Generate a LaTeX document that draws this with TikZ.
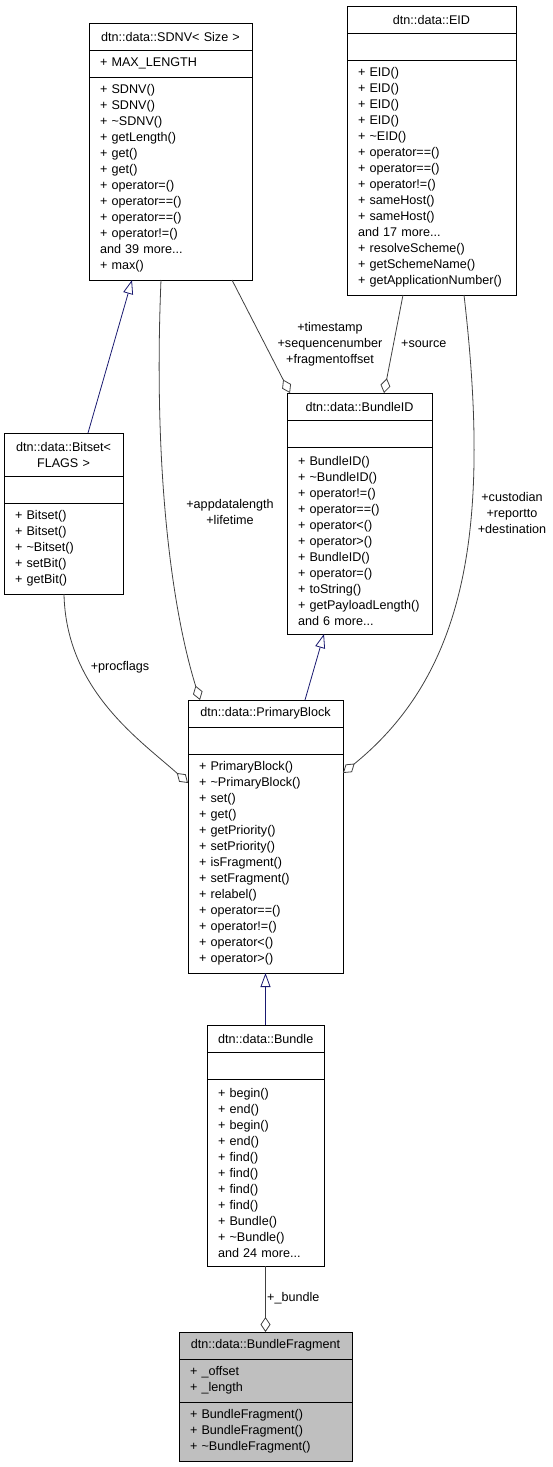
\documentclass[tikz,border=0pt]{standalone}
\usepackage{fontspec}
\usepackage{tikz}
\usetikzlibrary{arrows.meta}
\newfontfamily\dxfont{Liberation Sans}
\definecolor{edgegray}{HTML}{404040}
\definecolor{inhblue}{HTML}{191970}
\definecolor{fraggray}{HTML}{BFBFBF}

\begin{document}
\begin{tikzpicture}[x=1pt,y=-1pt,
umlbox/.style={draw=black, line width=1pt, fill=white, inner xsep=11pt,
inner ysep=0pt, outer sep=0pt, anchor=north,
font=\dxfont\fontsize{12.6}{16}\selectfont},
ctitle/.style={umlbox, align=center, text width=#1, minimum height=27},
cpart/.style={umlbox, align=left, text width=#1},
rows/.style={minimum height={16*#1+11}},
aggr/.style={draw=edgegray, line width=.8pt,
-{Diamond[open,length=15pt,width=10pt,line width=.8pt]}},
inherit/.style={draw=inhblue, line width=.8pt,
-{Triangle[open,length=14pt,width=10pt,line width=.8pt]}},
lbl/.style={font=\dxfont\fontsize{12.6}{16}\selectfont, inner sep=0pt, align=center}]
\useasboundingbox (0,0) rectangle (553,1467);
% SDNV
\node[ctitle=141] (sdnv) at (170.5,23) {dtn::data::SDNV< Size >};
\node[cpart=141, rows=1] (sdnva) at (sdnv.south) {+ MAX\_LENGTH};
\node[cpart=141, rows=12] (sdnvm) at (sdnva.south) {+ SDNV()\\+ SDNV()\\
+ \textasciitilde SDNV()\\+ getLength()\\+ get()\\+ get()\\+ operator=()\\
+ operator==()\\+ operator==()\\+ operator!=()\\and 39 more...\\+ max()};
% EID
\node[ctitle=147] (eid) at (431.5,6) {dtn::data::EID};
\node[cpart=147, rows=1] (eida) at (eid.south) {};
\node[cpart=147, rows=14] (eidm) at (eida.south) {+ EID()\\+ EID()\\+ EID()\\
+ EID()\\+ \textasciitilde EID()\\+ operator==()\\+ operator==()\\+ operator!=()\\
+ sameHost()\\+ sameHost()\\and 17 more...\\+ resolveScheme()\\
+ getSchemeName()\\+ getApplicationNumber()};
% BundleID
\node[ctitle=123] (bidt) at (359.5,393) {dtn::data::BundleID};
\node[cpart=123, rows=1] (bida) at (bidt.south) {};
\node[cpart=123, rows=11] (bidm) at (bida.south) {+ BundleID()\\
+ \textasciitilde BundleID()\\+ operator!=()\\+ operator==()\\+ operator<()\\
+ operator>()\\+ BundleID()\\+ operator=()\\+ toString()\\
+ getPayloadLength()\\and 6 more...};
% Bitset
\node[ctitle=97, rows=2] (bitt) at (63.5,433) {dtn::data::Bitset<\\FLAGS >};
\node[cpart=97, rows=1] (bita) at (bitt.south) {};
\node[cpart=97, rows=5] (bitm) at (bita.south) {+ Bitset()\\+ Bitset()\\
+ \textasciitilde Bitset()\\+ setBit()\\+ getBit()};
% PrimaryBlock
\node[ctitle=133] (pbt) at (265.5,700) {dtn::data::PrimaryBlock};
\node[cpart=133, rows=1] (pba) at (pbt.south) {};
\node[cpart=133, rows=13] (pbm) at (pba.south) {+ PrimaryBlock()\\
+ \textasciitilde PrimaryBlock()\\+ set()\\+ get()\\+ getPriority()\\
+ setPriority()\\+ isFragment()\\+ setFragment()\\+ relabel()\\
+ operator==()\\+ operator!=()\\+ operator<()\\+ operator>()};
% Bundle
\node[ctitle=95] (bt) at (265.5,1025) {dtn::data::Bundle};
\node[cpart=95, rows=1] (ba) at (bt.south) {};
\node[cpart=95, rows=11] (bm) at (ba.south) {+ begin()\\+ end()\\+ begin()\\
+ end()\\+ find()\\+ find()\\+ find()\\+ find()\\+ Bundle()\\
+ \textasciitilde Bundle()\\and 24 more...};
% BundleFragment
\node[ctitle=151, fill=fraggray] (bft) at (265.5,1332) {dtn::data::BundleFragment};
\node[cpart=151, rows=2, fill=fraggray] (bfa) at (bft.south) {+ \_offset\\+ \_length};
\node[cpart=151, rows=3, fill=fraggray] (bfm) at (bfa.south) {+ BundleFragment()\\
+ BundleFragment()\\+ \textasciitilde BundleFragment()};
% inheritance
\draw[inherit] ([xshift=84pt]bitt.north west) -- ([xshift=43pt]sdnvm.south west);
\draw[inherit] ([xshift=117pt]pbt.north west) -- ([xshift=37pt]bidm.south west);
\draw[inherit] (bt.north) -- (pbm.south);
% members
\draw[aggr] ([xshift=143pt]sdnvm.south west) -- ([xshift=3pt]bidt.north west);
\draw[aggr] ([xshift=56pt]eidm.south west) -- ([xshift=97pt]bidt.north west);
\draw[aggr] ([xshift=117pt]eidm.south west) .. controls (490,520) and (470,670)
.. ([yshift=-19pt]pbm.north east);
\draw[aggr] ([xshift=72pt]sdnvm.south west) .. controls (153,470) and (172,610)
.. ([xshift=12pt]pbt.north west);
\draw[aggr] ([xshift=60pt]bitm.south west) .. controls (66,690) and (140,740)
.. ([yshift=-29pt]pbm.north west);
\draw[aggr] (bm.south) -- (bft.north);
\node[lbl] (ltime) at (330,344) {+timestamp\\+sequencenumber\\+fragmentoffset};
\node[lbl, anchor=west] (lsrc) at (401,344) {+source};
\node[lbl] (lcust) at (512,513) {+custodian\\+reportto\\+destination};
\node[lbl] (lappd) at (230,512) {+appdatalength\\+lifetime};
\node[lbl] (lproc) at (120,667) {+procflags};
\node[lbl, anchor=west] (lbund) at (267,1298) {+\_bundle};
\end{tikzpicture}
\end{document}
